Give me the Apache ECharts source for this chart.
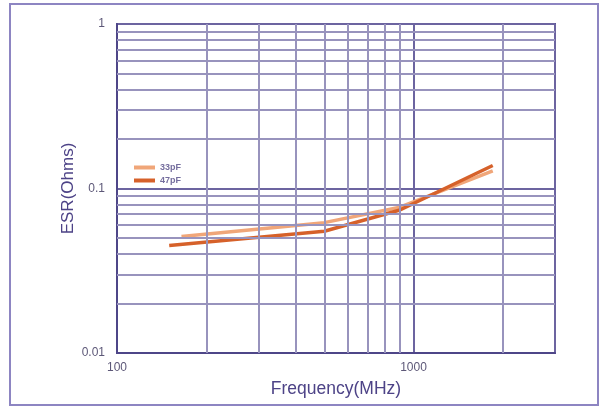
<!DOCTYPE html>
<html>
<head>
<meta charset="utf-8">
<script src="https://cdn.jsdelivr.net/npm/echarts@6/dist/echarts.min.js"></script>
<style>
  html, body { margin: 0; padding: 0; background: #ffffff; }
  #chart { width: 601px; height: 406px; }
</style>
</head>
<body>
<div id="chart"></div>
<script>
// ESR vs frequency for two capacitance values (log-log)
const seriesNames = ['33pF', '47pF'];
const freq33 = [165, 500, 900, 1850];
const esr33  = [0.051, 0.062, 0.077, 0.128];
const freq47 = [150, 500, 900, 1850];
const esr47  = [0.045, 0.055, 0.074, 0.138];

// Axis ranges and tick labels
const xRange = [100, 3000];
const yRange = [0.01, 1];
const xTickLabels = ['100', '1000'];
const yTickLabels = ['0.01', '0.1', '1'];

// Minor grid positions within each decade
const xMinorGrid = [200, 300, 400, 500, 600, 700, 800, 900, 2000];
const yMinorGrid = [0.02, 0.03, 0.04, 0.05, 0.06, 0.07, 0.08, 0.09,
                    0.2, 0.3, 0.4, 0.5, 0.6, 0.7, 0.8, 0.9];

const pairs = (xs, ys) => xs.map((x, i) => [x, ys[i]]);
const fmt = v => String(+Number(v).toPrecision(3));

const minorGridLines = [].concat(
  xMinorGrid.map(v => ({ xAxis: v })),
  yMinorGrid.map(v => ({ yAxis: v }))
);

const FONT = 'Liberation Sans, Arial, sans-serif';

const chart = echarts.init(document.getElementById('chart'), null, { renderer: 'canvas' });
chart.setOption({
  animation: false,
  backgroundColor: '#ffffff',
  graphic: [{
    type: 'rect',
    shape: { x: 10, y: 4, width: 588, height: 401 },
    style: { fill: 'none', stroke: '#8d85c2', lineWidth: 2 },
    z: -1
  }],
  grid: {
    left: 117, top: 24, right: 46, bottom: 53,
    show: true, borderColor: '#5a5292', borderWidth: 2, backgroundColor: 'transparent'
  },
  legend: {
    data: seriesNames,
    orient: 'vertical',
    left: 134, top: 162,
    padding: 0,
    itemGap: 2,
    itemWidth: 21,
    itemHeight: 4,
    icon: 'rect',
    textStyle: { fontFamily: FONT, fontSize: 9, fontWeight: 'bold', color: '#756e9e', lineHeight: 11 }
  },
  xAxis: {
    type: 'log', logBase: 10,
    min: xRange[0], max: xRange[1],
    name: 'Frequency(MHz)', nameLocation: 'middle', nameGap: 27,
    nameMoveOverlap: false,
    nameTextStyle: { fontFamily: FONT, fontSize: 17.5, color: '#4d4387' },
    axisLine: { show: true, lineStyle: { color: '#4e4688', width: 2 } },
    axisTick: { show: false },
    axisLabel: {
      margin: 9,
      fontFamily: FONT, fontSize: 12, color: '#5d5878',
      formatter: v => (xTickLabels.indexOf(fmt(v)) >= 0 ? fmt(v) : '')
    },
    splitLine: { show: true, lineStyle: { color: '#6c64a0', width: 2 } },
    minorTick: { show: false },
    minorSplitLine: { show: false }
  },
  yAxis: {
    type: 'log', logBase: 10,
    min: yRange[0], max: yRange[1],
    name: 'ESR(Ohms)', nameLocation: 'middle', nameGap: 40,
    nameMoveOverlap: false,
    nameTextStyle: { fontFamily: FONT, fontSize: 17, color: '#4d4387' },
    axisLine: { show: true, lineStyle: { color: '#4e4688', width: 2 } },
    axisTick: { show: false },
    axisLabel: {
      margin: 12,
      fontFamily: FONT, fontSize: 12, color: '#5d5878',
      formatter: v => (yTickLabels.indexOf(fmt(v)) >= 0 ? fmt(v) : '')
    },
    splitLine: { show: true, lineStyle: { color: '#6c64a0', width: 2 } },
    minorTick: { show: false },
    minorSplitLine: { show: false }
  },
  series: [
    {
      name: 'minor-grid',
      type: 'line',
      data: [],
      silent: true,
      z: 1,
      markLine: {
        silent: true,
        symbol: ['none', 'none'],
        label: { show: false },
        emphasis: { disabled: true },
        lineStyle: { type: 'solid', color: '#9893bd', width: 2 },
        data: minorGridLines
      }
    },
    {
      name: seriesNames[0],
      type: 'line',
      data: pairs(freq33, esr33),
      symbol: 'none',
      color: '#f0a679',
      lineStyle: { width: 3.5, color: '#f0a679', cap: 'butt' },
      z: 3
    },
    {
      name: seriesNames[1],
      type: 'line',
      data: pairs(freq47, esr47),
      symbol: 'none',
      color: '#d6612a',
      lineStyle: { width: 3.5, color: '#d6612a', cap: 'butt' },
      z: 4
    }
  ]
});
</script>
</body>
</html>
